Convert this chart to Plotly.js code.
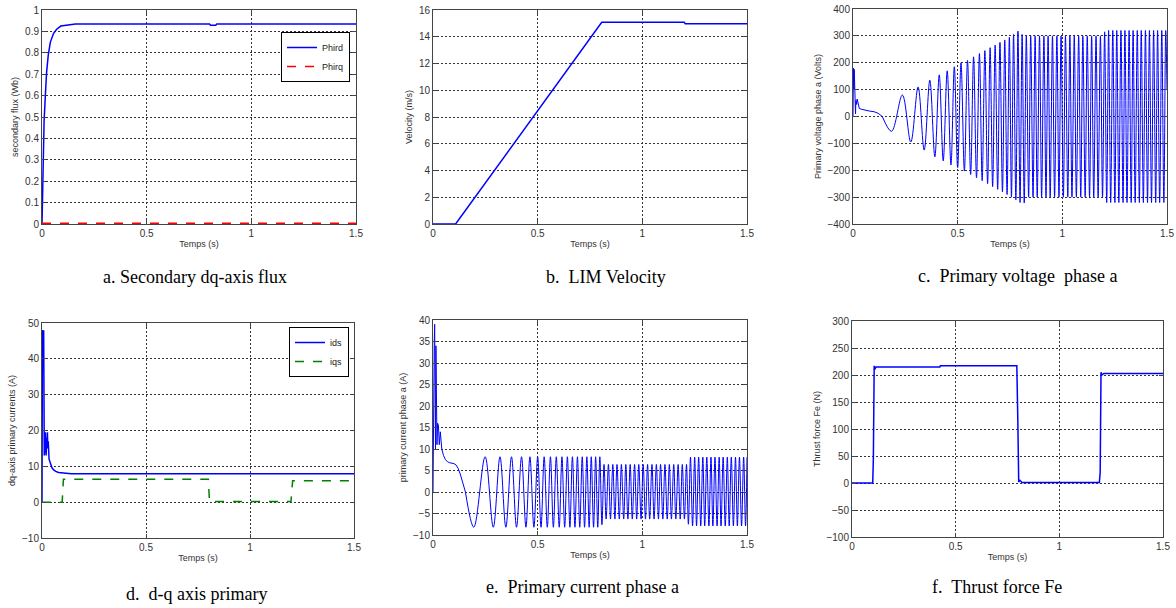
<!DOCTYPE html>
<html>
<head>
<meta charset="utf-8">
<script src="https://cdn.plot.ly/plotly-3.0.1.min.js"></script>
<style>html,body{margin:0;padding:0;background:#fff;}#chart{width:1176px;height:608px;}</style>
</head>
<body>
<div id="chart"></div>
<script>
// ---------- data ----------
var xTickVals = [0, 0.5, 1, 1.5];
var xTickText = ['0', '0.5', '1', '1.5'];

// a. secondary dq-axis flux
var fluxT = [0, 0.002, 0.006, 0.010, 0.016, 0.022, 0.030, 0.040, 0.055, 0.070, 0.090, 0.120, 0.160, 0.800, 0.805, 0.830, 0.835, 1.5];
var phird = [0, 0.12, 0.35, 0.48, 0.60, 0.71, 0.79, 0.85, 0.89, 0.91, 0.925, 0.93, 0.935, 0.935, 0.929, 0.929, 0.935, 0.935];
var phirqT = [0, 1.5];
var phirq = [0.003, 0.003];

// b. LIM velocity
var velT = [0, 0.108, 0.806, 1.200, 1.205, 1.5];
var vel = [0, 0, 15.08, 15.08, 14.97, 14.97];

// c. primary voltage phase a (start-up transient, then extrema of the oscillation)
var voltT0 = [0, 0.002, 0.004, 0.006, 0.008, 0.010, 0.012, 0.014, 0.017, 0.020, 0.025, 0.030, 0.040, 0.060, 0.080, 0.100, 0.120, 0.140];
var voltV0 = [0, 180, 100, 175, 90, 150, 10, 60, 45, 65, 40, 30, 27, 23, 20, 18, 12, 0];
var voltT = [0.14, 0.184, 0.236, 0.276, 0.311, 0.340, 0.367, 0.391, 0.412, 0.431, 0.450, 0.468, 0.484, 0.500, 0.516, 0.532, 0.547, 0.562, 0.576, 0.590, 0.604, 0.617, 0.630, 0.643, 0.655, 0.667, 0.679, 0.691, 0.702, 0.714, 0.725, 0.736, 0.747, 0.757, 0.767, 0.778, 0.788, 0.798, 0.808, 0.818,
  0.828, 0.839, 0.849, 0.860, 0.870, 0.880, 0.891, 0.901, 0.912, 0.922, 0.932, 0.942, 0.953, 0.963, 0.974, 0.984, 0.994, 1.005, 1.015, 1.026, 1.036, 1.046, 1.057, 1.067, 1.078, 1.088, 1.098, 1.109, 1.119, 1.130, 1.140, 1.150, 1.161, 1.171, 1.182, 1.192,
  1.202, 1.212, 1.221, 1.231, 1.241, 1.251, 1.260, 1.270, 1.280, 1.290, 1.299, 1.309, 1.319, 1.329, 1.338, 1.348, 1.358, 1.368, 1.377, 1.387, 1.397, 1.407, 1.416, 1.426, 1.436, 1.446, 1.455, 1.465, 1.475, 1.485, 1.494, 1.5];
var voltV = [0, -55, 80, -95, 110, -125, 135, -150, 155, -165, 170, -180, 185, -190, 200, -203, 209, -216, 222, -228, 234, -239, 245, -250, 256, -261, 266, -271, 276, -281, 285, -290, 295, -300, 305, -310, 318, -320, 305, -322,
  300, -300, 300, -300, 300, -300, 300, -300, 300, -300, 300, -300, 300, -300, 300, -300, 300, -300, 300, -300, 300, -300, 300, -300, 300, -300, 300, -300, 300, -300, 300, -300, 300, -300, 300, -300,
  315, -320, 320, -320, 320, -320, 320, -320, 320, -320, 320, -320, 320, -320, 320, -320, 320, -320, 320, -320, 320, -320, 320, -320, 320, -320, 320, -320, 320, -320, 320, 100];

// d. d-q axis primary currents
var idsT = [0, 0.0005, 0.002, 0.005, 0.008, 0.009, 0.010, 0.011, 0.013, 0.016, 0.018, 0.020, 0.022, 0.024, 0.026, 0.028, 0.030, 0.034, 0.040, 0.048, 0.056, 0.066, 0.080, 0.100, 0.120, 0.140, 1.5];
var ids = [0, 15.5, 48, 47.5, 48, 35, 20, 13, 15, 19.5, 14, 13, 18, 15.5, 19.5, 15, 17, 12, 10.8, 9.6, 9.0, 8.6, 8.3, 8.1, 8.0, 7.9, 7.9];
var iqsT = [0, 0.097, 0.103, 0.800, 0.805, 1.197, 1.205, 1.5];
var iqs = [0, 0, 6.4, 6.4, 0.2, 0.2, 6.0, 6.0];

// e. primary current phase a (start-up transient, then extrema of the oscillation)
var curT0 = [0, 0.002, 0.004, 0.006, 0.008, 0.010, 0.012, 0.014, 0.016, 0.019, 0.022, 0.026, 0.030, 0.035, 0.042, 0.050, 0.060, 0.070, 0.080, 0.090, 0.100, 0.110, 0.120, 0.130, 0.140, 0.155];
var curV0 = [0, 26, 6, 35, 39, 30, 10, 34, 12, 11, 16, 15.5, 11, 14, 10, 8.5, 7.5, 7.0, 6.8, 6.7, 6.6, 6.3, 5.5, 4.2, 2.5, 0];
var curT = [0.155, 0.195, 0.249, 0.288, 0.320, 0.348, 0.375, 0.399, 0.423, 0.444, 0.463, 0.482, 0.500, 0.516, 0.531, 0.546, 0.561, 0.575, 0.589, 0.603, 0.616, 0.629, 0.642, 0.654, 0.666, 0.678, 0.690, 0.701, 0.713, 0.724, 0.735, 0.746, 0.756, 0.767, 0.777, 0.787, 0.797,
  0.807, 0.817, 0.827, 0.838, 0.848, 0.859, 0.869, 0.879, 0.890, 0.900, 0.911, 0.921, 0.931, 0.942, 0.952, 0.963, 0.973, 0.983, 0.994, 1.004, 1.015, 1.025, 1.035, 1.046, 1.056, 1.067, 1.077, 1.087, 1.098, 1.108, 1.119, 1.129, 1.139, 1.150, 1.160, 1.171, 1.181, 1.191,
  1.201, 1.211, 1.220, 1.230, 1.240, 1.250, 1.259, 1.269, 1.279, 1.289, 1.298, 1.308, 1.318, 1.328, 1.337, 1.347, 1.357, 1.367, 1.376, 1.386, 1.396, 1.406, 1.415, 1.425, 1.435, 1.445, 1.454, 1.464, 1.474, 1.484, 1.493, 1.5];
var curV = [0, -8.2, 8.2, -8.2, 8.2, -8.2, 8.2, -8.2, 8.2, -8.2, 8.2, -8.2, 8.2, -8.2, 8.2, -8.2, 8.2, -8.2, 8.2, -8.2, 8.2, -8.2, 8.2, -8.2, 8.2, -8.2, 8.2, -8.2, 8.2, -8.2, 8.2, -8.2, 8.2, -8.2, 8.2, -8.2, 8.2,
  -7.6, 6.4, -6.3, 6.4, -6.3, 6.4, -6.3, 6.4, -6.3, 6.4, -6.3, 6.4, -6.3, 6.4, -6.3, 6.4, -6.3, 6.4, -6.3, 6.4, -6.3, 6.4, -6.3, 6.4, -6.3, 6.4, -6.3, 6.4, -6.3, 6.4, -6.3, 6.4, -6.3, 6.4, -6.3, 6.4, -6.3, 6.4, -6.3, 6.4,
  -7.5, 8.1, -7.9, 8.1, -7.9, 8.1, -7.9, 8.1, -7.9, 8.1, -7.9, 8.1, -7.9, 8.1, -7.9, 8.1, -7.9, 8.1, -7.9, 8.1, -7.9, 8.1, -7.9, 8.1, -7.9, 8.1, -7.9, 8.1, -7.9, 8.1, -7.9, -2];

// f. thrust force Fe
var thrT = [0, 0.100, 0.103, 0.107, 0.110, 0.115, 0.424, 0.426, 0.795, 0.800, 0.804, 0.810, 0.820, 1.193, 1.197, 1.201, 1.205, 1.215, 1.5];
var thr = [0, 0, 45, 217, 210, 215, 215, 217, 217, 110, 2, 5, 1, 1, 20, 205, 200, 203, 203];

// ---------- captions & axis titles ----------
var captions = ['a. Secondary dq-axis flux', 'b.\u00a0 LIM Velocity', 'c.\u00a0 Primary voltage\u00a0 phase a',
                'd.\u00a0 d-q axis primary', 'e.\u00a0 Primary current phase a', 'f.\u00a0 Thrust force Fe'];
var yTitles = ['secondary flux (Wb)', 'Velocity (m/s)', 'Primary voltage phase a (Volts)',
               'dq-axis primary currents (A)', 'primary current phase a (A)', 'Thrust force Fe (N)'];

// ---------- figure ----------
var W = 1176, H = 608;
function dx(a, b) { return [a / W, b / W]; }
function dy(top, bottom) { return [1 - bottom / H, 1 - top / H]; }

var BLUE = '#0000ff';
var traces = [
  {x: fluxT, y: phird, name: 'Phird', xaxis: 'x', yaxis: 'y', mode: 'lines', line: {color: BLUE, width: 1.5}, legend: 'legend'},
  {x: phirqT, y: phirq, name: 'Phirq', xaxis: 'x', yaxis: 'y', mode: 'lines', line: {color: '#ff0000', width: 1.5, dash: 'dash'}, legend: 'legend'},
  {x: velT, y: vel, xaxis: 'x2', yaxis: 'y2', mode: 'lines', line: {color: BLUE, width: 1.5}, showlegend: false},
  {x: voltT0, y: voltV0, xaxis: 'x3', yaxis: 'y3', mode: 'lines', line: {color: BLUE, width: 1}, showlegend: false},
  {x: voltT, y: voltV, xaxis: 'x3', yaxis: 'y3', mode: 'lines', line: {color: BLUE, width: 1, shape: 'spline', smoothing: 1}, showlegend: false},
  {x: idsT, y: ids, name: 'ids', xaxis: 'x4', yaxis: 'y4', mode: 'lines', line: {color: BLUE, width: 1.5}, legend: 'legend2'},
  {x: iqsT, y: iqs, name: 'iqs', xaxis: 'x4', yaxis: 'y4', mode: 'lines', line: {color: '#008000', width: 1.5, dash: 'dash'}, legend: 'legend2'},
  {x: curT0, y: curV0, xaxis: 'x5', yaxis: 'y5', mode: 'lines', line: {color: BLUE, width: 1}, showlegend: false},
  {x: curT, y: curV, xaxis: 'x5', yaxis: 'y5', mode: 'lines', line: {color: BLUE, width: 1, shape: 'spline', smoothing: 1}, showlegend: false},
  {x: thrT, y: thr, xaxis: 'x6', yaxis: 'y6', mode: 'lines', line: {color: BLUE, width: 1.5}, showlegend: false}
];

var SANS = "'Liberation Sans', Arial, sans-serif";
var SERIF = "'Liberation Serif', 'Times New Roman', serif";
var tickFont = {family: SANS, size: 10, color: '#333'};
var titleFont = {family: SANS, size: 9, color: '#333'};
function axBase() {
  return {showline: true, mirror: 'ticks', linecolor: '#444', linewidth: 1,
          ticks: 'inside', ticklen: 4, tickcolor: '#444',
          showgrid: true, gridcolor: '#333', griddash: '2px,2px', gridwidth: 1,
          zeroline: false, tickfont: tickFont, fixedrange: true};
}
function xAx(domain, anchor) {
  var a = axBase();
  a.domain = domain; a.anchor = anchor; a.range = [0, 1.5];
  a.tickmode = 'array'; a.tickvals = xTickVals; a.ticktext = xTickText;
  a.title = {text: 'Temps (s)', font: titleFont, standoff: 2};
  return a;
}
function yAx(domain, anchor, range, dtick, title) {
  var a = axBase();
  a.domain = domain; a.anchor = anchor; a.range = range;
  a.tickmode = 'linear'; a.tick0 = range[0]; a.dtick = dtick;
  a.title = {text: title, font: titleFont, standoff: 4};
  return a;
}

var cols = [[42, 356], [433, 747], [853, 1167], [42, 354], [433, 747], [852, 1163]];
var rows = [[10, 224], [10, 224], [9, 224], [323, 538], [320, 535], [321, 537]];
var yr = [[0, 1], [0, 16], [-400, 400], [-10, 50], [-10, 40], [-100, 300]];
var yd = [0.1, 2, 100, 10, 5, 50];
var capPos = [[195, 277], [606, 277], [1017, 276], [196, 594], [582, 587], [997, 587]];

var legFont = {family: SANS, size: 9, color: '#222'};
var layout = {
  width: W, height: H, autosize: false,
  margin: {l: 0, r: 0, t: 0, b: 0, pad: 0},
  paper_bgcolor: '#ffffff', plot_bgcolor: '#ffffff',
  showlegend: true,
  legend: {x: 350 / W, y: 1 - 32 / H, xanchor: 'right', yanchor: 'top', bgcolor: '#fff', bordercolor: '#000', borderwidth: 1,
           font: legFont, tracegroupgap: 0, itemwidth: 30},
  legend2: {x: 349 / W, y: 1 - 327 / H, xanchor: 'right', yanchor: 'top', bgcolor: '#fff', bordercolor: '#000', borderwidth: 1,
           font: legFont, tracegroupgap: 0, itemwidth: 30},
  annotations: []
};
for (var i = 0; i < 6; i++) {
  var s = i === 0 ? '' : String(i + 1);
  layout['xaxis' + s] = xAx(dx(cols[i][0], cols[i][1]), 'y' + s);
  layout['yaxis' + s] = yAx(dy(rows[i][0], rows[i][1]), 'x' + s, yr[i], yd[i], yTitles[i]);
  layout.annotations.push({
    text: captions[i], xref: 'paper', yref: 'paper',
    x: capPos[i][0] / W, y: 1 - capPos[i][1] / H, xanchor: 'center', yanchor: 'middle',
    showarrow: false, font: {family: SERIF, size: 18, color: '#000'}
  });
}

Plotly.newPlot('chart', traces, layout, {staticPlot: true, displayModeBar: false});
</script>
</body>
</html>
